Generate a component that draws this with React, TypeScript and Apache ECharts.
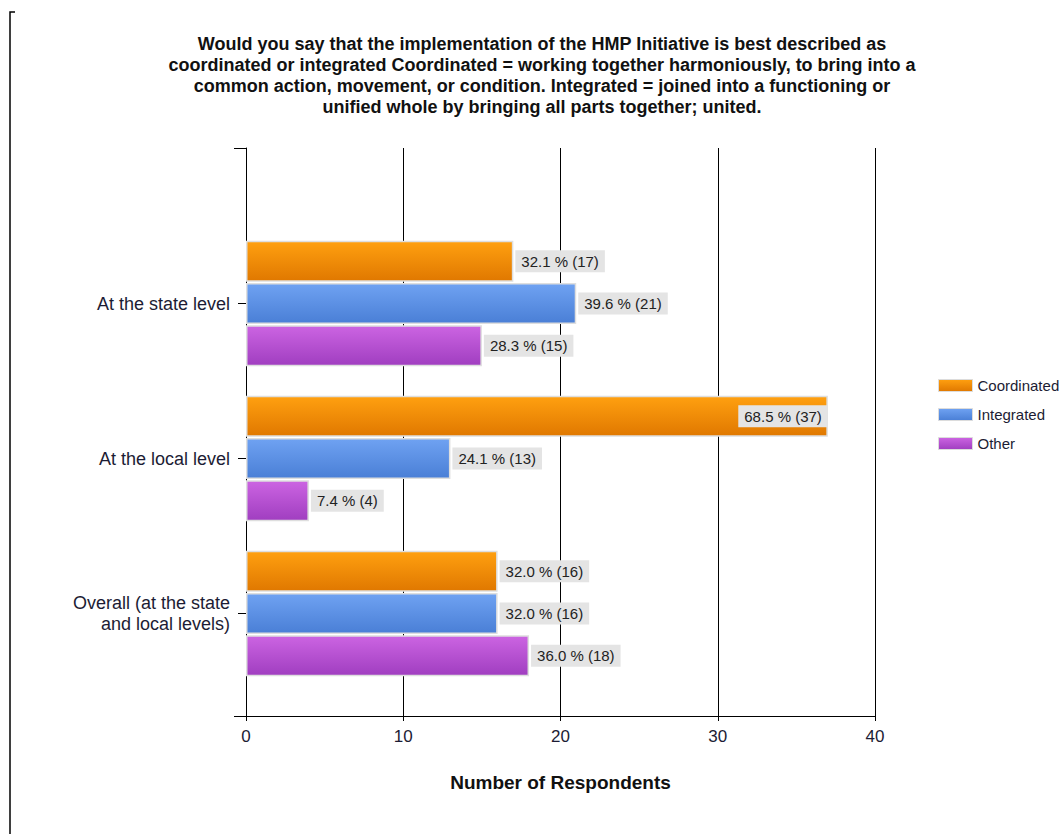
import React, { useEffect, useRef } from "react";
import * as echarts from "echarts";

const categories = ["At the state level", "At the local level", "Overall (at the state\nand local levels)"];
const seriesNames = ["Coordinated", "Integrated", "Other"];
const coordinated = [17, 37, 16];
const integrated = [21, 13, 16];
const other = [15, 4, 18];
const coordinatedPct = ["32.1 %", "68.5 %", "32.0 %"];
const integratedPct = ["39.6 %", "24.1 %", "32.0 %"];
const otherPct = ["28.3 %", "7.4 %", "36.0 %"];
const xTicks = [0, 10, 20, 30, 40];

const titleText =
  "Would you say that the implementation of the HMP Initiative is best described as\n" +
  "coordinated or integrated Coordinated = working together harmoniously, to bring into a\n" +
  "common action, movement, or condition. Integrated = joined into a functioning or\n" +
  "unified whole by bringing all parts together; united.";

const FONT = "'Liberation Sans', Arial, sans-serif";

const grad = (top: string, bottom: string) =>
  new echarts.graphic.LinearGradient(0, 0, 0, 1, [
    { offset: 0, color: top },
    { offset: 1, color: bottom },
  ]);

export default function App() {
  const ref = useRef<HTMLDivElement>(null);
  useEffect(() => {
    if (!ref.current) return;
    const chart = echarts.init(ref.current, undefined, { renderer: "svg" });
    const values = [coordinated, integrated, other];
    const pcts = [coordinatedPct, integratedPct, otherPct];
    const colors = [
      ["#ffa010", "#e07800"],
      ["#6fa2f2", "#4a7fd6"],
      ["#cc64e2", "#a03ec0"],
    ];
    const xMax = xTicks[xTicks.length - 1];
    chart.setOption({
      animation: false,
      backgroundColor: "#ffffff",
      textStyle: { fontFamily: FONT },
      graphic: [
        {
          type: "polyline",
          shape: { points: [[15, 12], [10, 12], [10, 834]] },
          style: { stroke: "#000", lineWidth: 1.5, fill: null },
        },
        {
          type: "text",
          x: 542,
          y: 33,
          style: {
            text: titleText,
            textAlign: "center",
            font: `bold 18px ${FONT}`,
            lineHeight: 21,
            fill: "#111",
          },
        },
      ],
      legend: {
        orient: "vertical",
        left: 938,
        top: 377,
        padding: 0,
        itemWidth: 34,
        itemHeight: 12,
        itemGap: 12,
        itemTextGap: 5,
        icon: "rect",
        itemStyle: { borderColor: "#dcdcdc", borderWidth: 1 },
        textStyle: { fontSize: 15, color: "#1c1c34", fontFamily: FONT, lineHeight: 17 },
        data: seriesNames,
      },
      grid: [
        { left: 246, right: 187, top: 148, bottom: 118, containLabel: false },
        { left: 246, right: 187, top: 226, bottom: 143, containLabel: false },
      ],
      xAxis: [
        {
          gridIndex: 0,
          type: "value",
          min: xTicks[0],
          max: xMax,
          interval: 10,
          axisLine: { show: true, lineStyle: { color: "#000", width: 1 } },
          axisTick: { show: true, length: 5, lineStyle: { color: "#000" } },
          axisLabel: { fontSize: 17, color: "#1c1c34", margin: 12, fontFamily: FONT },
          splitLine: { show: true, lineStyle: { color: "#000", width: 1 } },
          name: "Number of Respondents",
          nameLocation: "middle",
          nameGap: 57,
          nameTextStyle: { fontSize: 19, fontWeight: "bold", color: "#111", fontFamily: FONT },
        },
        {
          gridIndex: 1,
          type: "value",
          min: xTicks[0],
          max: xMax,
          show: false,
        },
      ],
      yAxis: [
        {
          gridIndex: 0,
          type: "value",
          min: 0,
          max: 1,
          interval: 1,
          axisLine: { show: true, lineStyle: { color: "#000", width: 1 } },
          axisTick: { show: true, length: 12, lineStyle: { color: "#000" } },
          axisLabel: { show: false },
          splitLine: { show: false },
        },
        {
          gridIndex: 1,
          type: "category",
          inverse: true,
          data: categories,
          axisLine: { show: false },
          axisTick: { show: true, alignWithLabel: true, length: 8, lineStyle: { color: "#000" } },
          axisLabel: {
            fontSize: 18,
            color: "#1c1c34",
            margin: 16,
            lineHeight: 21,
            align: "right",
            fontFamily: FONT,
          },
          splitLine: { show: false },
        },
      ],
      series: seriesNames.map((name, si) => ({
        name,
        type: "bar",
        xAxisIndex: 1,
        yAxisIndex: 1,
        barWidth: 41,
        barGap: "3%",
        itemStyle: {
          color: grad(colors[si][0], colors[si][1]),
          borderColor: "#dedede",
          borderWidth: 1.5,
        },
        label: {
          show: true,
          position: "right",
          distance: 2,
          backgroundColor: "#e4e4e4",
          padding: [4, 6, 3, 6],
          fontSize: 15,
          color: "#222",
          fontFamily: FONT,
          formatter: (p: any) => `${pcts[si][p.dataIndex]} (${p.value})`,
        },
        data: values[si].map((v) =>
          v / xMax > 0.8
            ? { value: v, label: { position: "insideRight", distance: 0 } }
            : { value: v }
        ),
      })),
    });
    return () => chart.dispose();
  }, []);
  return (
    <div
      ref={ref}
      style={{ position: "fixed", left: 0, top: 0, width: 1062, height: 834 }}
    />
  );
}
